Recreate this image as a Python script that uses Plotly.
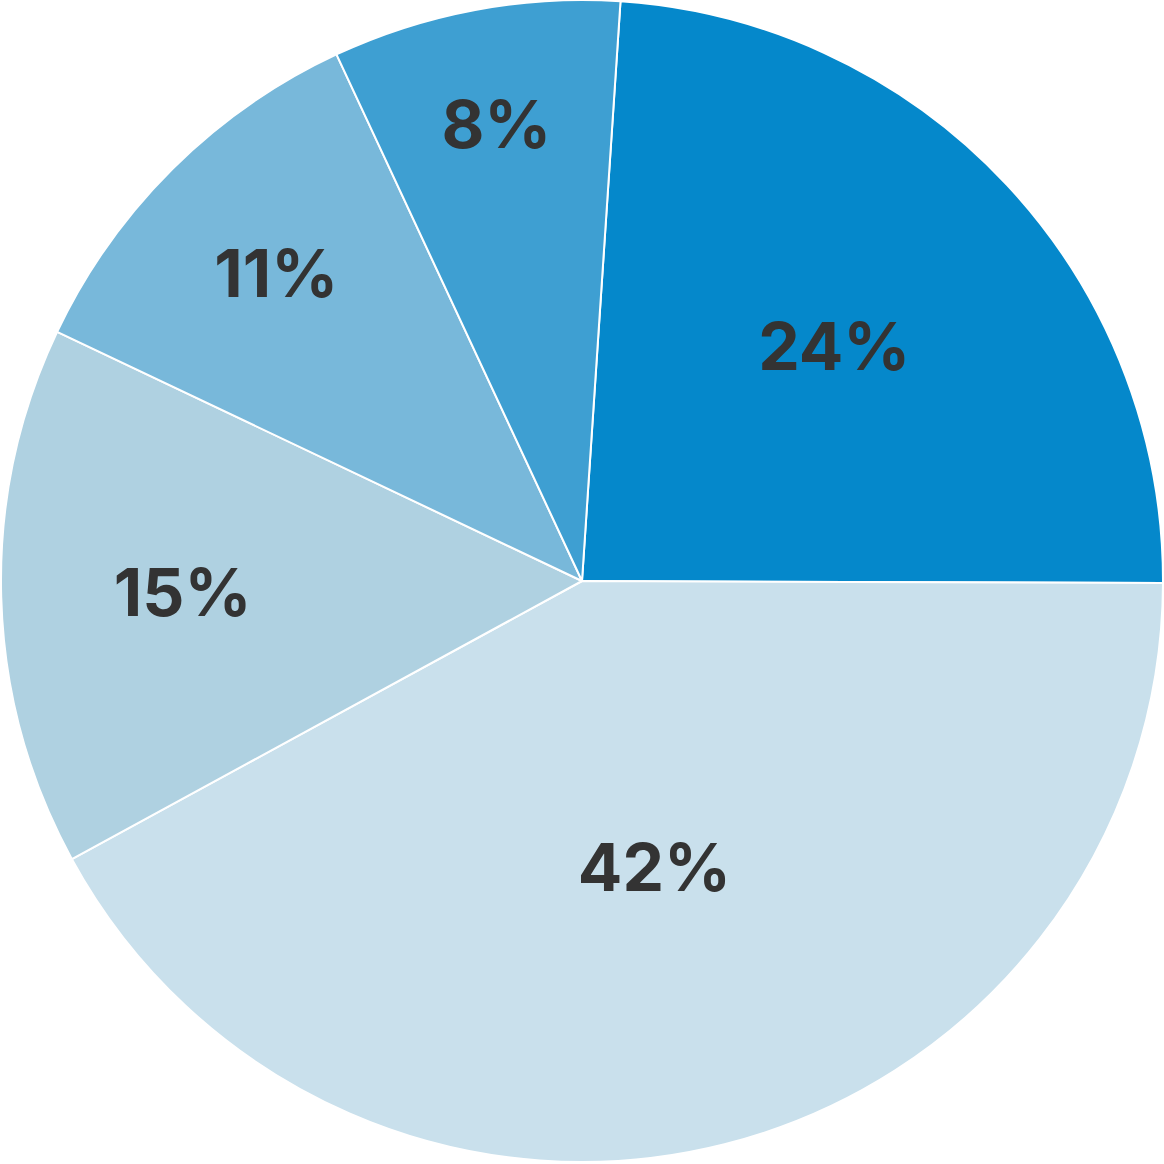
import plotly.graph_objects as go

labels = ["A", "B", "C", "D", "E"]
values = [24, 42, 15, 11, 8]
colors = ["#0588CB", "#C9E0EC", "#AFD1E1", "#78B8DA", "#3E9FD2"]

fig = go.Figure(go.Pie(
    labels=labels,
    values=values,
    sort=False,
    direction="clockwise",
    rotation=3.8,
    marker=dict(colors=colors, line=dict(color="white", width=2)),
    texttemplate="%{percent:.0%}",
    textposition="inside",
    insidetextorientation="horizontal",
    textfont=dict(family="Inter", size=66, color="#333333", weight="bold"),
    hoverinfo="label+percent",
    showlegend=False,
))
fig.update_layout(
    width=1164, height=1164,
    margin=dict(l=1, r=1, t=0, b=2),
    paper_bgcolor="white",
    uniformtext=dict(minsize=66, mode="show"),
)
fig.write_html(
    "out.html",
    config={"displayModeBar": False},
    post_script="document.body.style.margin='0';document.body.style.overflow='hidden';",
)
